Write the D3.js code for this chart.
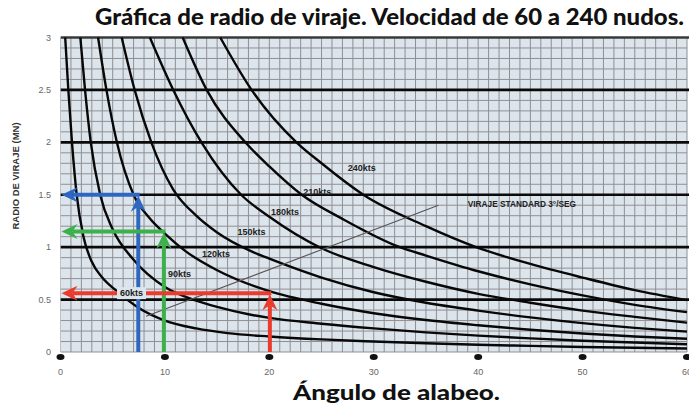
<!DOCTYPE html>
<html>
<head>
<meta charset="utf-8">
<script src="https://cdn.jsdelivr.net/npm/d3@7"></script>
<style>
  html, body { margin: 0; padding: 0; background: #ffffff; }
  svg { display: block; }
</style>
</head>
<body>
<svg id="chart" width="689" height="408"></svg>
<script>
// ---------------- DATA ----------------
const speeds = ["60kts", "90kts", "120kts", "150kts", "180kts", "210kts", "240kts"];

// [bank angle (deg), turn radius (NM)]
const curve60  = [[0.45,3],[0.75,2.5],[1.1,2],[1.55,1.5],[2.2,1.1],[3,0.86],[4,0.71],[5.4,0.58],[7.5,0.42],[10,0.3],[13,0.225],[16,0.18],[20,0.148],[25,0.12],[30,0.1],[35,0.083],[40,0.069],[45,0.058],[50,0.048],[55,0.04],[60,0.034]];
const curve90  = [[1.9,3],[2.35,2.5],[2.9,2],[3.8,1.5],[5,1.17],[7,0.88],[10,0.62],[13,0.49],[15,0.43],[18,0.36],[20,0.325],[25,0.27],[30,0.225],[35,0.187],[40,0.156],[45,0.13],[50,0.108],[55,0.09],[60,0.074]];
const curve120 = [[3.6,3],[4.4,2.5],[5.4,2],[7,1.5],[8.5,1.28],[10.1,1.12],[12,0.96],[15,0.78],[20,0.58],[25,0.46],[30,0.37],[35,0.305],[40,0.255],[45,0.212],[50,0.177],[55,0.148],[60,0.126]];
const curve150 = [[5.86,3],[7.1,2.5],[8.7,2],[10.8,1.55],[13,1.3],[15,1.14],[18.5,0.95],[20,0.89],[25,0.71],[30,0.57],[35,0.47],[40,0.395],[45,0.33],[50,0.275],[55,0.23],[60,0.194]];
const curve180 = [[8.56,3],[10.8,2.5],[13.5,2],[17.3,1.5],[20,1.29],[25,0.99],[30,0.81],[35,0.67],[40,0.555],[45,0.47],[50,0.395],[55,0.335],[60,0.28]];
const curve210 = [[11.7,3],[14,2.5],[17.7,2],[20,1.77],[23.1,1.5],[27,1.27],[32.5,1.0],[35,0.92],[40,0.77],[45,0.645],[50,0.54],[55,0.45],[60,0.38]];
const curve240 = [[15.3,3],[18.3,2.5],[22.6,2],[25,1.8],[29,1.5],[35,1.2],[39.8,1.0],[45,0.84],[50,0.71],[55,0.59],[60,0.495]];
const curves = [curve60, curve90, curve120, curve150, curve180, curve210, curve240];

// label centre (angle, radius) of each speed label
const labelAngles = [6.8, 11.4, 14.9, 18.3, 21.5, 24.6, 28.85];
const labelRadii  = [0.563, 0.744, 0.935, 1.148, 1.339, 1.53, 1.756];

// standard rate turn line (two endpoints)
const standardLine = [[8.2, 0.34], [36.2, 1.40]];
const standardLabel = "VIRAJE STANDARD 3°/SEG";
const standardLabelAt = [39, 1.38];

// example arrows: bank angle and resulting radius
const arrowAngles = [7.45, 9.9, 20.05];
const arrowRadii  = [1.5, 1.15, 0.56];

const xTicks = [0, 10, 20, 30, 40, 50, 60];
const yTicks = [0, 0.5, 1, 1.5, 2, 2.5, 3];
const yTickLabels = ["0", "0.5", "1", "1.5", "2", "2.5", "3"];

const title = "Gráfica de radio de viraje. Velocidad de 60 a 240 nudos.";
const xTitle = "Ángulo de alabeo.";
const yTitle = "RADIO DE VIRAJE (MN)";

// ---------------- STYLE ----------------
const arrowColors = ["#2e67c0", "#3cb04a", "#ec3a2c"];
const bg = "#dde5ec";

// ---------------- DRAW ----------------
const svg = d3.select("#chart");
const x = d3.scaleLinear().domain([0, 60]).range([60.5, 687]);
const y = d3.scaleLinear().domain([0, 3]).range([352, 37.5]);

svg.append("defs").append("clipPath").attr("id", "plotclip")
  .append("rect").attr("x", x(0)).attr("y", y(3) - 2).attr("width", x(60) - x(0) + 2).attr("height", y(0) - y(3) + 4);

// background
svg.append("rect").attr("x", x(0)).attr("y", y(3)).attr("width", x(60) - x(0)).attr("height", y(0) - y(3)).attr("fill", bg);

const plot = svg.append("g").attr("clip-path", "url(#plotclip)");

// minor grid
const gridX = d3.range(0, 61, 1);
const gridY = d3.range(0, 31, 1).map(d => d / 10);
plot.append("g").selectAll("line").data(gridX).join("line")
  .attr("x1", d => x(d)).attr("x2", d => x(d)).attr("y1", y(0)).attr("y2", y(3))
  .attr("stroke", "#8f8f93").attr("stroke-width", 1);
plot.append("g").selectAll("line").data(gridY).join("line")
  .attr("x1", x(0)).attr("x2", x(60)).attr("y1", d => y(d)).attr("y2", d => y(d))
  .attr("stroke", "#8f8f93").attr("stroke-width", 1);

// major horizontal lines
plot.append("g").selectAll("line").data(yTicks.filter(d => d > 0)).join("line")
  .attr("x1", x(0)).attr("x2", x(60) + 2).attr("y1", d => y(d)).attr("y2", d => y(d))
  .attr("stroke", d => d === 3 ? "#3a3a3a" : "#0a0a0a").attr("stroke-width", 2.6);

// curves
const line = d3.line().x(d => x(d[0])).y(d => y(d[1])).curve(d3.curveMonotoneX);
plot.append("g").selectAll("path").data(curves).join("path")
  .attr("d", line).attr("fill", "none").attr("stroke", "#080808").attr("stroke-width", 2.4);

// standard rate line
plot.append("path").attr("d", d3.line().x(d => x(d[0])).y(d => y(d[1]))(standardLine))
  .attr("stroke", "#555").attr("stroke-width", 1.1).attr("fill", "none");

svg.append("text").attr("x", x(standardLabelAt[0])).attr("y", y(standardLabelAt[1]))
  .attr("font-family", "Liberation Sans, Arial, sans-serif").attr("font-size", 8.3).attr("font-weight", "bold")
  .attr("fill", "#222").text(standardLabel);

// arrows
const arrows = arrowAngles.map((a, i) => ({ a, r: arrowRadii[i], c: arrowColors[i] }));
const ag = svg.append("g");
arrows.forEach(d => {
  const xv = x(d.a), yv = y(d.r), x0 = x(0);
  ag.append("line").attr("x1", xv).attr("x2", xv).attr("y1", y(0)).attr("y2", yv + 12)
    .attr("stroke", d.c).attr("stroke-width", 4);
  ag.append("path").attr("d", `M${xv},${yv + 1} L${xv - 7.5},${yv + 17} L${xv},${yv + 12} L${xv + 7.5},${yv + 17} Z`)
    .attr("fill", d.c);
  ag.append("line").attr("x1", xv + 1.5).attr("x2", x0 + 12).attr("y1", yv).attr("y2", yv)
    .attr("stroke", d.c).attr("stroke-width", 4);
  ag.append("path").attr("d", `M${x0 + 1},${yv} L${x0 + 17},${yv - 7.5} L${x0 + 12},${yv} L${x0 + 17},${yv + 7.5} Z`)
    .attr("fill", d.c);
});

// speed labels
const lg = svg.append("g").attr("font-family", "Liberation Sans, Arial, sans-serif")
  .attr("font-size", 9).attr("font-weight", "bold").attr("fill", "#222");
speeds.forEach((s, i) => {
  const t = lg.append("text").attr("x", x(labelAngles[i])).attr("y", y(labelRadii[i]))
    .attr("dy", "0.35em").attr("text-anchor", "middle").text(s);
  if (i === 0) {
    const bb = t.node().getBBox();
    lg.insert("rect", "text").attr("x", bb.x - 3).attr("y", bb.y - 1).attr("width", bb.width + 6).attr("height", bb.height + 2)
      .attr("fill", bg);
  }
});

// x axis dots and labels
svg.append("g").selectAll("ellipse").data(xTicks).join("ellipse")
  .attr("cx", d => x(d)).attr("cy", 357).attr("rx", 4).attr("ry", 3).attr("fill", "#111");
svg.append("g").selectAll("text").data(xTicks).join("text")
  .attr("x", d => x(d)).attr("y", 375).attr("text-anchor", "middle")
  .attr("font-family", "Liberation Sans, Arial, sans-serif").attr("font-size", 9).attr("fill", "#666")
  .text(d => d);

// y axis labels
svg.append("g").selectAll("text").data(yTicks).join("text")
  .attr("x", 51).attr("y", d => y(d)).attr("dy", "0.35em").attr("text-anchor", "end")
  .attr("font-family", "Liberation Sans, Arial, sans-serif").attr("font-size", 9).attr("fill", "#666")
  .text((d, i) => yTickLabels[i]);

// titles
svg.append("text").attr("x", 389.5).attr("y", 24.5).attr("text-anchor", "middle")
  .attr("font-family", "Lato, 'Open Sans', sans-serif").attr("font-weight", 900).attr("font-size", 22)
  .attr("textLength", 589).attr("lengthAdjust", "spacingAndGlyphs")
  .attr("fill", "#111").text(title);
svg.append("text").attr("x", 396.5).attr("y", 400).attr("text-anchor", "middle")
  .attr("font-family", "Lato, 'Open Sans', sans-serif").attr("font-weight", 900).attr("font-size", 21)
  .attr("textLength", 207).attr("lengthAdjust", "spacingAndGlyphs")
  .attr("fill", "#111").text(xTitle);
svg.append("text").attr("transform", "translate(19,176) rotate(-90)").attr("text-anchor", "middle")
  .attr("font-family", "Liberation Sans, Arial, sans-serif").attr("font-weight", "bold").attr("font-size", 9.5)
  .attr("fill", "#333").text(yTitle);
</script>
</body>
</html>
